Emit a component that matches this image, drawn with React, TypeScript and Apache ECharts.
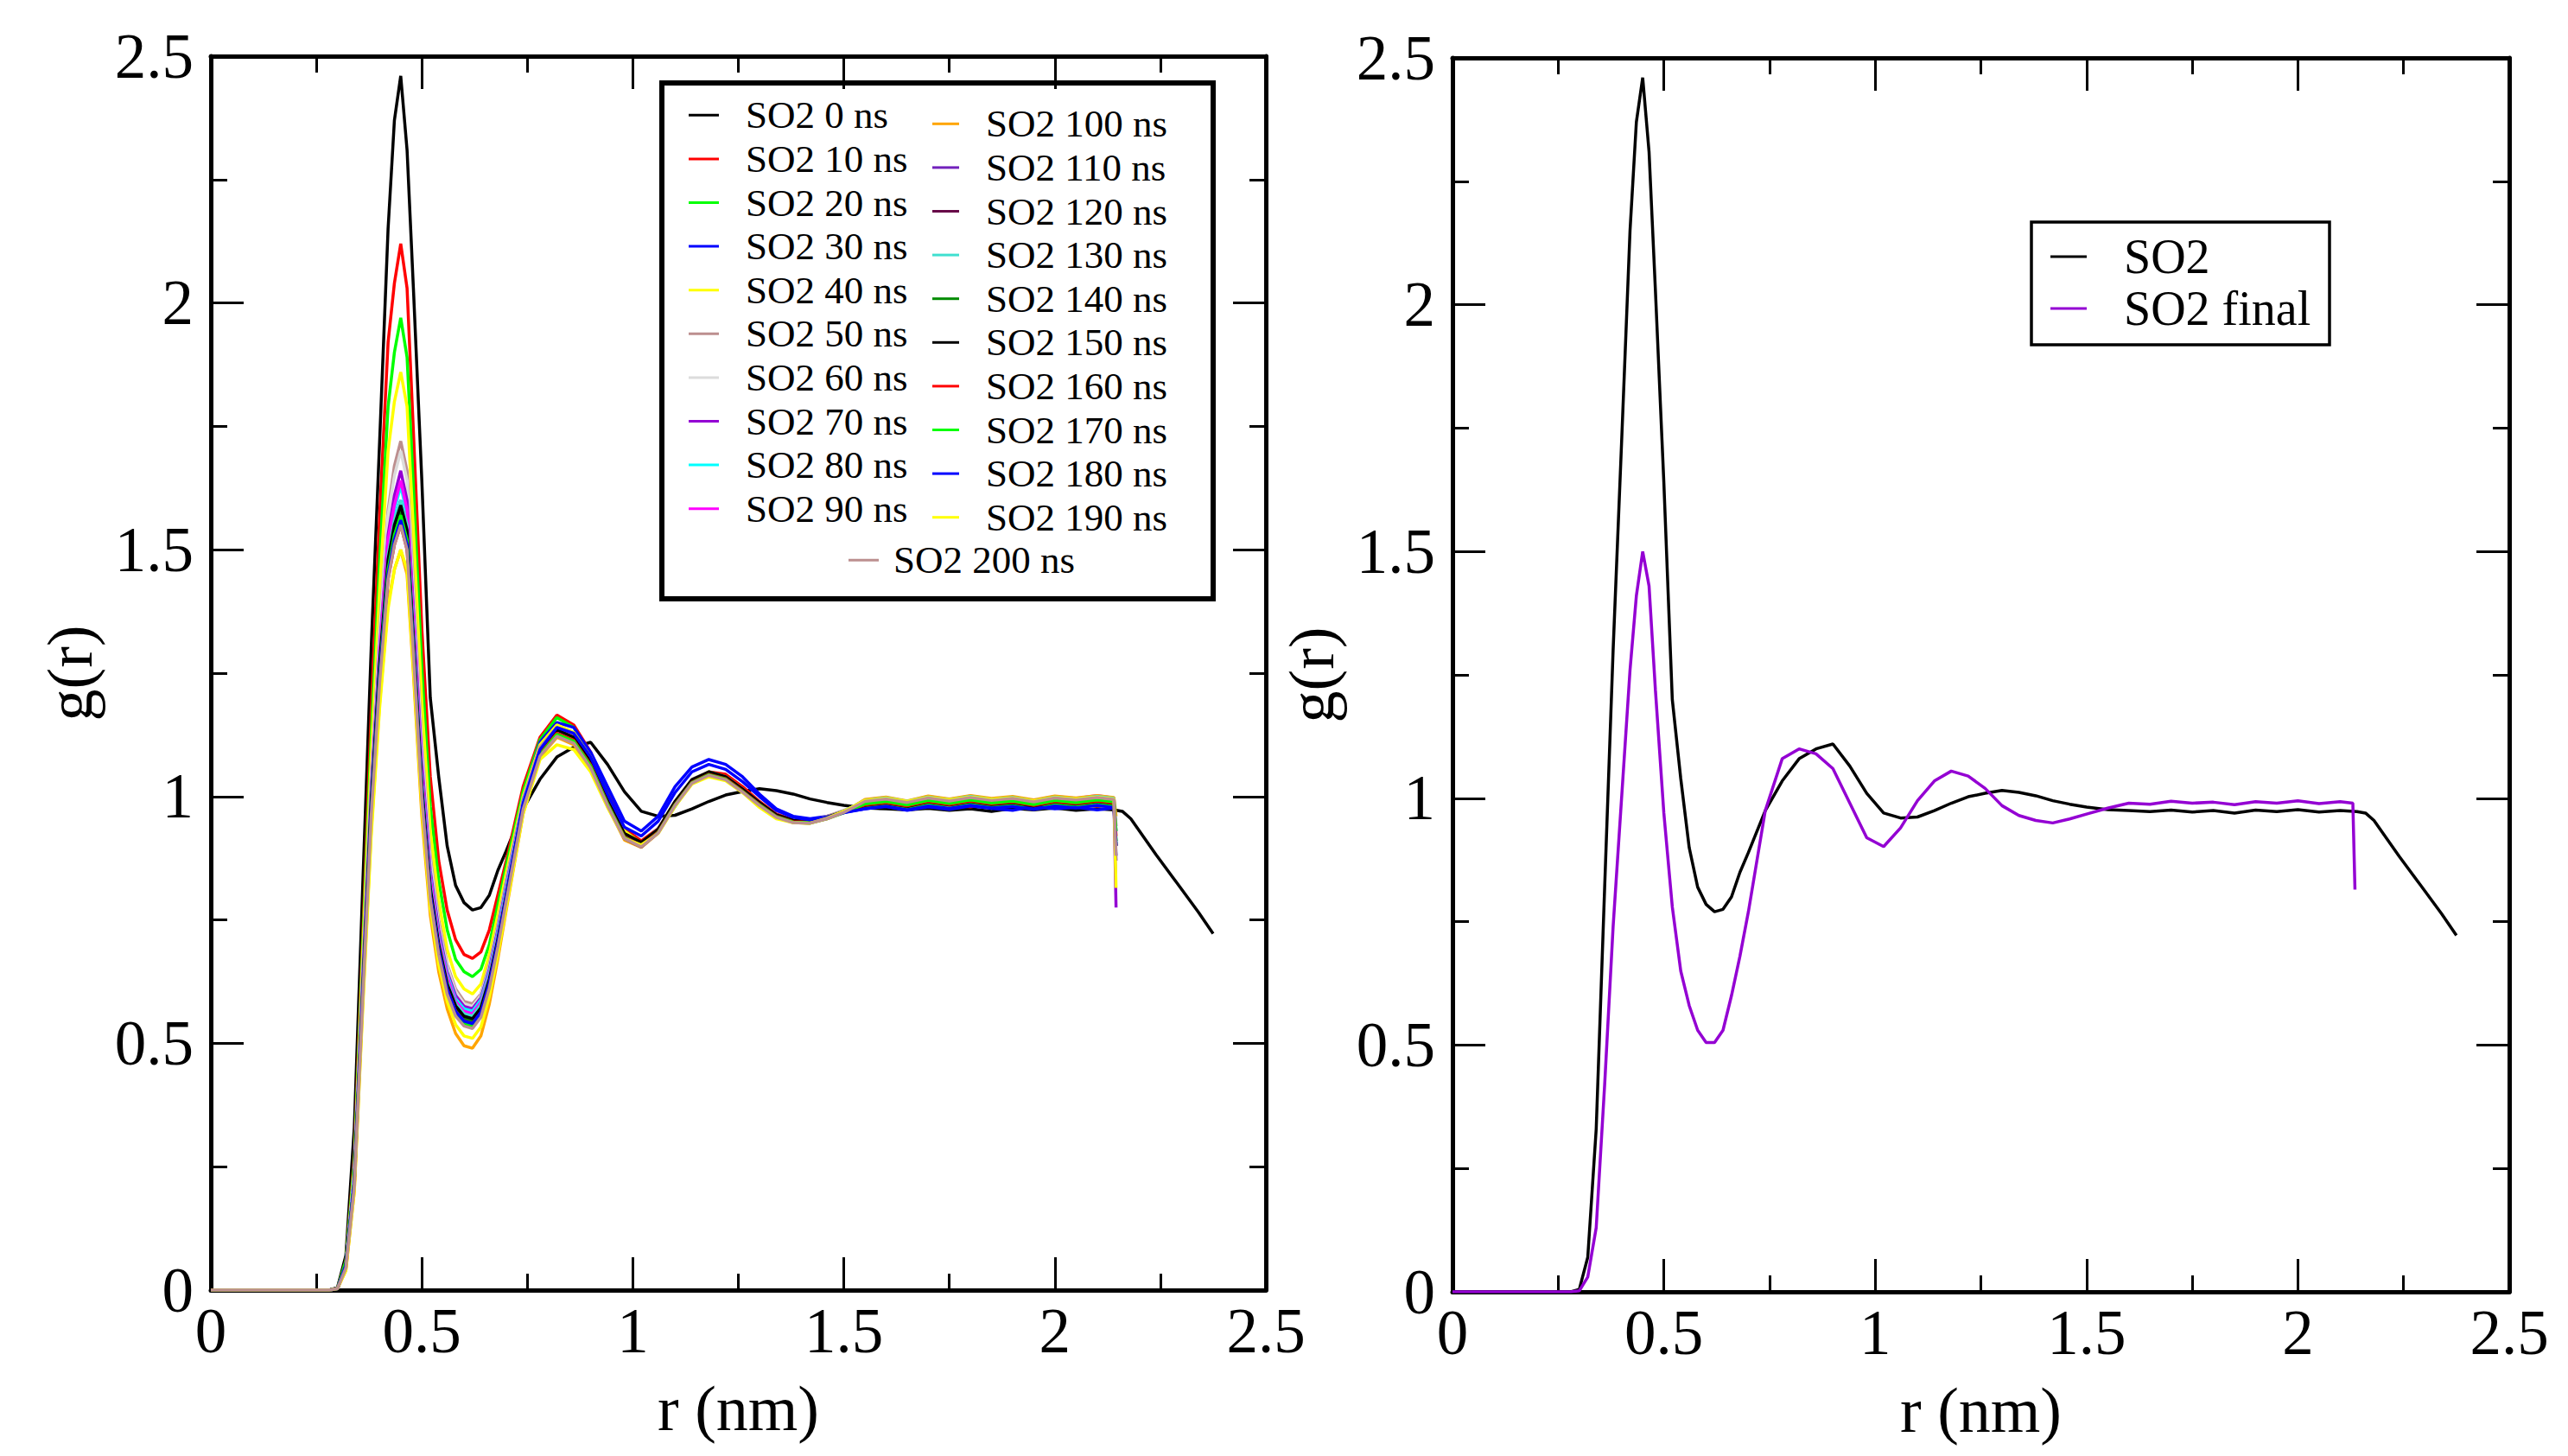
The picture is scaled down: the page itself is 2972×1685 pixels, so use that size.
import React, { useEffect, useRef } from "react";
import * as echarts from "echarts";

const FONT = "'Liberation Serif', 'Times New Roman', Times, serif";

// r grid (nm) shared by the trajectory curves of the left panel
const rLeft = [0, 0.26, 0.28, 0.3, 0.32, 0.34, 0.36, 0.38, 0.4, 0.42, 0.435, 0.45, 0.465, 0.48, 0.5, 0.52, 0.54, 0.56, 0.58, 0.6, 0.62, 0.64, 0.66, 0.68, 0.7,
  0.74, 0.78, 0.82, 0.86, 0.9, 0.94, 0.98, 1.02, 1.06, 1.1, 1.14, 1.18, 1.22, 1.26, 1.3, 1.34, 1.38, 1.42, 1.46, 1.5,
  1.55, 1.6, 1.65, 1.7, 1.75, 1.8, 1.85, 1.9, 1.95, 2.0, 2.05, 2.1, 2.14, 2.145];
// r grid of the reference (0 ns) curve, which runs on to 2.375 nm
const rRef = [0, 0.26, 0.28, 0.3, 0.32, 0.34, 0.36, 0.38, 0.4, 0.42, 0.435, 0.45, 0.465, 0.48, 0.5, 0.52, 0.54, 0.56, 0.58, 0.6, 0.62, 0.64, 0.66, 0.68, 0.7,
  0.74, 0.78, 0.82, 0.86, 0.9, 0.94, 0.98, 1.02, 1.06, 1.1, 1.14, 1.18, 1.22, 1.26, 1.3, 1.34, 1.38, 1.42, 1.46, 1.5,
  1.55, 1.6, 1.65, 1.7, 1.75, 1.8, 1.85, 1.9, 1.95, 2.0, 2.05, 2.1, 2.14, 2.16, 2.18, 2.24, 2.29, 2.34, 2.375];
// r grid of the final curve (right panel)
const rFinal = [0, 0.26, 0.28, 0.3, 0.32, 0.34, 0.36, 0.38, 0.4, 0.42, 0.435, 0.45, 0.465, 0.48, 0.5, 0.52, 0.54, 0.56, 0.58, 0.6, 0.62, 0.64, 0.66, 0.68, 0.7,
  0.74, 0.78, 0.82, 0.86, 0.9, 0.94, 0.98, 1.02, 1.06, 1.1, 1.14, 1.18, 1.22, 1.26, 1.3, 1.34, 1.38, 1.42, 1.46, 1.5,
  1.55, 1.6, 1.65, 1.7, 1.75, 1.8, 1.85, 1.9, 1.95, 2.0, 2.05, 2.1, 2.13, 2.135];

const g0 = [0, 0, 0, 0.005, 0.07, 0.33, 0.82, 1.3, 1.72, 2.15, 2.37, 2.46, 2.31, 2.03, 1.64, 1.2, 1.04, 0.9, 0.82, 0.785, 0.77, 0.775, 0.8, 0.85, 0.89,
  0.975, 1.035, 1.08, 1.1, 1.11, 1.065, 1.01, 0.97, 0.96, 0.962, 0.975, 0.99, 1.003, 1.01, 1.016, 1.012, 1.005, 0.995, 0.988, 0.982,
  0.977, 0.975, 0.973, 0.976, 0.972, 0.975, 0.97, 0.976, 0.973, 0.977, 0.972, 0.975, 0.973, 0.97, 0.955, 0.882, 0.824, 0.766, 0.722];
const g10 = [0, 0, 0, 0.003, 0.06, 0.27, 0.72, 1.17, 1.57, 1.92, 2.04, 2.12, 2.03, 1.74, 1.34, 1.04, 0.87, 0.77, 0.71, 0.68, 0.672, 0.685, 0.73, 0.8, 0.87,
  1.02, 1.12, 1.165, 1.145, 1.09, 1.01, 0.935, 0.91, 0.935, 0.985, 1.03, 1.05, 1.045, 1.02, 0.99, 0.965, 0.952, 0.95, 0.958, 0.968,
  0.978, 0.985, 0.981, 0.988, 0.983, 0.979, 0.986, 0.982, 0.988, 0.98, 0.985, 0.981, 0.984, 0.93];
const g20 = [0, 0, 0, 0.003, 0.06, 0.26, 0.7, 1.12, 1.48, 1.79, 1.9, 1.97, 1.89, 1.63, 1.26, 0.98, 0.83, 0.73, 0.67, 0.645, 0.635, 0.65, 0.7, 0.78, 0.86,
  1.01, 1.115, 1.16, 1.14, 1.085, 1.005, 0.93, 0.905, 0.93, 0.98, 1.03, 1.05, 1.04, 1.015, 0.985, 0.96, 0.948, 0.946, 0.955, 0.967,
  0.98, 0.984, 0.978, 0.986, 0.982, 0.987, 0.98, 0.985, 0.979, 0.986, 0.983, 0.988, 0.982, 0.91];
const g30 = [0, 0, 0, 0.003, 0.05, 0.23, 0.63, 1.0, 1.27, 1.49, 1.56, 1.6, 1.55, 1.32, 1.03, 0.83, 0.71, 0.63, 0.58, 0.562, 0.56, 0.585, 0.64, 0.72, 0.81,
  0.995, 1.11, 1.15, 1.14, 1.09, 1.02, 0.95, 0.93, 0.96, 1.02, 1.06, 1.075, 1.065, 1.04, 1.005, 0.975, 0.96, 0.955, 0.96, 0.968,
  0.975, 0.98, 0.972, 0.979, 0.974, 0.981, 0.976, 0.972, 0.98, 0.975, 0.978, 0.973, 0.977, 0.88];
const g40 = [0, 0, 0, 0.003, 0.05, 0.25, 0.68, 1.08, 1.42, 1.7, 1.8, 1.86, 1.79, 1.54, 1.19, 0.93, 0.79, 0.69, 0.635, 0.61, 0.6, 0.62, 0.68, 0.76, 0.845,
  1.0, 1.105, 1.145, 1.13, 1.08, 1.0, 0.93, 0.905, 0.93, 0.985, 1.03, 1.045, 1.035, 1.01, 0.985, 0.962, 0.95, 0.948, 0.958, 0.97,
  0.985, 0.99, 0.984, 0.992, 0.987, 0.994, 0.988, 0.991, 0.986, 0.993, 0.989, 0.992, 0.99, 0.92];
const g50 = [0, 0, 0, 0.003, 0.05, 0.24, 0.65, 1.04, 1.34, 1.58, 1.67, 1.72, 1.66, 1.43, 1.11, 0.88, 0.75, 0.66, 0.61, 0.585, 0.58, 0.6, 0.66, 0.74, 0.83,
  0.995, 1.1, 1.14, 1.125, 1.075, 0.995, 0.925, 0.905, 0.935, 0.99, 1.035, 1.05, 1.04, 1.015, 0.988, 0.963, 0.951, 0.95, 0.96, 0.972,
  0.988, 0.993, 0.986, 0.995, 0.989, 0.996, 0.99, 0.994, 0.987, 0.995, 0.991, 0.997, 0.992, 0.9];
const g60 = [0, 0, 0, 0.003, 0.05, 0.24, 0.64, 1.03, 1.33, 1.57, 1.65, 1.7, 1.64, 1.41, 1.1, 0.87, 0.74, 0.655, 0.605, 0.58, 0.575, 0.597, 0.655, 0.735, 0.825,
  0.99, 1.095, 1.135, 1.12, 1.07, 0.99, 0.922, 0.903, 0.932, 0.988, 1.032, 1.048, 1.038, 1.013, 0.986, 0.962, 0.95, 0.949, 0.958, 0.97,
  0.991, 0.996, 0.989, 0.998, 0.992, 0.999, 0.993, 0.997, 0.99, 0.998, 0.994, 0.999, 0.995, 0.89];
const g70 = [0, 0, 0, 0.003, 0.05, 0.23, 0.63, 1.01, 1.3, 1.53, 1.61, 1.66, 1.6, 1.38, 1.07, 0.85, 0.73, 0.645, 0.597, 0.575, 0.57, 0.592, 0.65, 0.73, 0.82,
  0.99, 1.095, 1.135, 1.12, 1.068, 0.99, 0.922, 0.902, 0.93, 0.986, 1.03, 1.046, 1.037, 1.012, 0.985, 0.96, 0.949, 0.948, 0.957, 0.969,
  0.99, 0.995, 0.988, 0.997, 0.991, 0.998, 0.992, 0.996, 0.989, 0.997, 0.993, 0.998, 0.994, 0.775];
const g80 = [0, 0, 0, 0.003, 0.05, 0.23, 0.62, 1.0, 1.29, 1.51, 1.58, 1.63, 1.57, 1.36, 1.05, 0.84, 0.72, 0.64, 0.59, 0.57, 0.565, 0.588, 0.645, 0.725, 0.815,
  0.988, 1.093, 1.133, 1.118, 1.066, 0.988, 0.92, 0.901, 0.93, 0.985, 1.03, 1.045, 1.036, 1.011, 0.984, 0.96, 0.949, 0.947, 0.957, 0.969,
  0.992, 0.997, 0.99, 0.999, 0.993, 1.0, 0.994, 0.998, 0.991, 0.999, 0.995, 1.0, 0.996, 0.905];
const g90 = [0, 0, 0, 0.003, 0.05, 0.23, 0.62, 1.0, 1.29, 1.52, 1.59, 1.64, 1.58, 1.36, 1.05, 0.835, 0.715, 0.635, 0.585, 0.565, 0.56, 0.583, 0.64, 0.72, 0.81,
  0.985, 1.09, 1.13, 1.115, 1.064, 0.986, 0.918, 0.9, 0.928, 0.984, 1.028, 1.044, 1.035, 1.01, 0.983, 0.959, 0.948, 0.947, 0.956, 0.968,
  0.993, 0.998, 0.99, 1.0, 0.994, 1.001, 0.995, 0.999, 0.992, 1.0, 0.996, 1.002, 0.997, 0.94];
const g100 = [0, 0, 0, 0.003, 0.04, 0.2, 0.58, 0.93, 1.19, 1.39, 1.46, 1.5, 1.45, 1.25, 0.96, 0.76, 0.645, 0.57, 0.52, 0.495, 0.49, 0.515, 0.58, 0.67, 0.77,
  0.965, 1.08, 1.12, 1.105, 1.055, 0.98, 0.912, 0.897, 0.926, 0.982, 1.027, 1.043, 1.034, 1.009, 0.982, 0.958, 0.947, 0.946, 0.955, 0.968,
  0.994, 0.999, 0.991, 1.001, 0.995, 1.002, 0.996, 1.0, 0.993, 1.001, 0.997, 1.002, 0.998, 0.96];
const g110 = [0, 0, 0, 0.003, 0.05, 0.22, 0.61, 0.98, 1.26, 1.47, 1.54, 1.58, 1.53, 1.32, 1.02, 0.81, 0.7, 0.62, 0.575, 0.555, 0.55, 0.573, 0.63, 0.71, 0.8,
  0.982, 1.088, 1.128, 1.113, 1.062, 0.984, 0.916, 0.899, 0.928, 0.984, 1.029, 1.045, 1.036, 1.011, 0.984, 0.96, 0.949, 0.948, 0.957, 0.969,
  0.988, 0.993, 0.986, 0.995, 0.989, 0.996, 0.99, 0.994, 0.987, 0.995, 0.991, 0.996, 0.992, 0.87];
const g120 = [0, 0, 0, 0.003, 0.05, 0.22, 0.6, 0.97, 1.25, 1.46, 1.53, 1.57, 1.52, 1.31, 1.01, 0.805, 0.695, 0.617, 0.572, 0.552, 0.548, 0.57, 0.627, 0.708, 0.798,
  0.98, 1.086, 1.126, 1.111, 1.06, 0.983, 0.915, 0.898, 0.927, 0.983, 1.028, 1.044, 1.035, 1.01, 0.983, 0.959, 0.948, 0.947, 0.956, 0.968,
  0.986, 0.991, 0.984, 0.993, 0.987, 0.994, 0.988, 0.992, 0.985, 0.993, 0.989, 0.994, 0.99, 0.9];
const g130 = [0, 0, 0, 0.003, 0.05, 0.23, 0.61, 0.99, 1.27, 1.49, 1.56, 1.6, 1.55, 1.33, 1.03, 0.82, 0.705, 0.625, 0.58, 0.56, 0.555, 0.578, 0.635, 0.715, 0.805,
  0.984, 1.09, 1.13, 1.115, 1.064, 0.986, 0.918, 0.9, 0.929, 0.985, 1.03, 1.046, 1.037, 1.012, 0.985, 0.961, 0.95, 0.949, 0.958, 0.97,
  0.992, 0.997, 0.99, 0.999, 0.993, 1.0, 0.994, 0.998, 0.991, 0.999, 0.995, 1.0, 0.996, 0.93];
const g140 = [0, 0, 0, 0.003, 0.05, 0.22, 0.6, 0.98, 1.26, 1.47, 1.54, 1.58, 1.53, 1.315, 1.015, 0.808, 0.697, 0.618, 0.572, 0.551, 0.545, 0.568, 0.625, 0.706, 0.797,
  0.98, 1.087, 1.127, 1.112, 1.061, 0.984, 0.916, 0.899, 0.928, 0.984, 1.029, 1.045, 1.036, 1.011, 0.984, 0.96, 0.949, 0.948, 0.957, 0.969,
  0.984, 0.989, 0.982, 0.991, 0.985, 0.992, 0.986, 0.99, 0.983, 0.991, 0.987, 0.992, 0.988, 0.91];
const g150 = [0, 0, 0, 0.003, 0.05, 0.22, 0.61, 0.99, 1.27, 1.48, 1.55, 1.59, 1.54, 1.32, 1.02, 0.815, 0.7, 0.62, 0.576, 0.555, 0.55, 0.572, 0.63, 0.71, 0.8,
  0.983, 1.092, 1.135, 1.12, 1.07, 0.992, 0.925, 0.907, 0.934, 0.99, 1.034, 1.05, 1.04, 1.015, 0.988, 0.963, 0.952, 0.95, 0.958, 0.969,
  0.982, 0.987, 0.98, 0.989, 0.983, 0.99, 0.984, 0.988, 0.981, 0.989, 0.985, 0.99, 0.986, 0.9];
const g160 = [0, 0, 0, 0.003, 0.045, 0.21, 0.6, 0.96, 1.24, 1.44, 1.51, 1.55, 1.5, 1.29, 1.0, 0.8, 0.69, 0.61, 0.565, 0.545, 0.54, 0.562, 0.62, 0.702, 0.793,
  0.978, 1.086, 1.128, 1.114, 1.064, 0.986, 0.918, 0.9, 0.928, 0.984, 1.029, 1.045, 1.036, 1.011, 0.984, 0.96, 0.949, 0.948, 0.957, 0.969,
  0.983, 0.988, 0.981, 0.99, 0.984, 0.991, 0.985, 0.989, 0.982, 0.99, 0.986, 0.991, 0.987, 0.92];
const g170 = [0, 0, 0, 0.003, 0.05, 0.22, 0.6, 0.97, 1.25, 1.46, 1.53, 1.57, 1.52, 1.3, 1.0, 0.798, 0.687, 0.607, 0.561, 0.54, 0.535, 0.558, 0.616, 0.698, 0.79,
  0.976, 1.084, 1.126, 1.112, 1.062, 0.985, 0.917, 0.899, 0.927, 0.983, 1.028, 1.044, 1.035, 1.01, 0.983, 0.959, 0.948, 0.947, 0.956, 0.968,
  0.985, 0.99, 0.983, 0.992, 0.986, 0.993, 0.987, 0.991, 0.984, 0.992, 0.988, 0.993, 0.989, 0.93];
const g180 = [0, 0, 0, 0.003, 0.05, 0.22, 0.6, 0.97, 1.245, 1.45, 1.52, 1.56, 1.51, 1.3, 1.005, 0.802, 0.69, 0.61, 0.565, 0.545, 0.54, 0.563, 0.622, 0.705, 0.797,
  0.985, 1.095, 1.14, 1.128, 1.08, 1.005, 0.938, 0.92, 0.95, 1.008, 1.05, 1.065, 1.055, 1.03, 1.0, 0.972, 0.958, 0.953, 0.958, 0.967,
  0.975, 0.98, 0.973, 0.981, 0.976, 0.982, 0.977, 0.98, 0.974, 0.981, 0.977, 0.982, 0.978, 0.9];
const g190 = [0, 0, 0, 0.003, 0.04, 0.2, 0.57, 0.92, 1.18, 1.38, 1.46, 1.5, 1.46, 1.26, 0.975, 0.775, 0.66, 0.585, 0.538, 0.515, 0.51, 0.533, 0.595, 0.68, 0.775,
  0.965, 1.075, 1.105, 1.095, 1.05, 0.978, 0.915, 0.902, 0.925, 0.98, 1.025, 1.04, 1.032, 1.008, 0.978, 0.955, 0.947, 0.946, 0.956, 0.97,
  0.992, 0.996, 0.99, 0.998, 0.993, 0.999, 0.994, 0.997, 0.991, 0.998, 0.995, 0.999, 0.995, 0.815];
const g200 = [0, 0, 0, 0.003, 0.045, 0.21, 0.59, 0.96, 1.23, 1.44, 1.51, 1.55, 1.5, 1.29, 0.995, 0.793, 0.68, 0.6, 0.555, 0.535, 0.53, 0.553, 0.612, 0.695, 0.788,
  0.974, 1.082, 1.122, 1.108, 1.058, 0.982, 0.915, 0.898, 0.926, 0.982, 1.027, 1.043, 1.034, 1.009, 0.982, 0.958, 0.947, 0.946, 0.955, 0.968,
  0.99, 0.995, 0.988, 0.997, 0.991, 0.998, 0.992, 0.996, 0.989, 0.997, 0.993, 0.998, 0.994, 0.88];
const gFinal = [0, 0, 0, 0.002, 0.03, 0.13, 0.42, 0.74, 1.0, 1.26, 1.41, 1.5, 1.43, 1.22, 0.97, 0.78, 0.65, 0.58, 0.53, 0.505, 0.505, 0.53, 0.6, 0.68, 0.77,
  0.975, 1.08, 1.1, 1.09, 1.06, 0.99, 0.92, 0.902, 0.94, 0.995, 1.035, 1.055, 1.045, 1.02, 0.985, 0.965, 0.955, 0.95, 0.958, 0.968,
  0.98, 0.99, 0.988, 0.994, 0.99, 0.992, 0.987, 0.993, 0.99, 0.995, 0.989, 0.993, 0.99, 0.815];

const leftNames = ["SO2 0 ns", "SO2 10 ns", "SO2 20 ns", "SO2 30 ns", "SO2 40 ns", "SO2 50 ns", "SO2 60 ns", "SO2 70 ns", "SO2 80 ns", "SO2 90 ns",
  "SO2 100 ns", "SO2 110 ns", "SO2 120 ns", "SO2 130 ns", "SO2 140 ns", "SO2 150 ns", "SO2 160 ns", "SO2 170 ns", "SO2 180 ns", "SO2 190 ns", "SO2 200 ns"];
const leftValues = [g0, g10, g20, g30, g40, g50, g60, g70, g80, g90, g100, g110, g120, g130, g140, g150, g160, g170, g180, g190, g200];
const leftColors = ["#000000", "#ff0000", "#00ff00", "#0000ff", "#ffff00", "#bc8f8f", "#dcdcdc", "#9400d3", "#00ffff", "#ff00ff",
  "#ffa500", "#7221bc", "#670748", "#40e0d0", "#008b00", "#000000", "#ff0000", "#00ff00", "#0000ff", "#ffff00", "#bc8f8f"];
const rightNames = ["SO2", "SO2 final"];
const rightColors = ["#000000", "#9400d3"];

const xTicks = { min: 0, max: 2.5, interval: 0.5 };
const yTicks = { min: 0, max: 2.5, interval: 0.5 };

function pairs(rs: number[], gs: number[]) {
  return rs.map((r, i) => [r, gs[i]]);
}

function frameAxis(extra: any) {
  return {
    type: "value",
    axisLine: { show: true, onZero: false, lineStyle: { color: "#000", width: 5 } },
    axisTick: { show: true, inside: true, length: 38, lineStyle: { color: "#000", width: 3 } },
    minorTick: { show: true, splitNumber: 2, length: 19, lineStyle: { color: "#000", width: 3 } },
    splitLine: { show: false },
    minorSplitLine: { show: false },
    ...extra,
  };
}

const labelStyle = { fontFamily: FONT, fontSize: 73, color: "#000" };
const nameStyle = { fontFamily: FONT, fontSize: 74, color: "#000" };

export default function App() {
  const ref = useRef<HTMLDivElement>(null);
  useEffect(() => {
    if (!ref.current) return;
    const chart = echarts.init(ref.current, undefined, { renderer: "svg" });
    const grids = [
      { left: 244, top: 65, width: 1221, height: 1428 },
      { left: 1681, top: 67, width: 1223, height: 1428 },
    ];
    const xAxis: any[] = [];
    const yAxis: any[] = [];
    [0, 1].forEach((gi) => {
      xAxis.push(frameAxis({ gridIndex: gi, position: "bottom", ...xTicks, name: "r (nm)", nameLocation: "middle", nameGap: 100, nameTextStyle: nameStyle, axisLabel: { ...labelStyle, margin: 11 } }));
      xAxis.push(frameAxis({ gridIndex: gi, position: "top", ...xTicks, axisLabel: { show: false } }));
      yAxis.push(frameAxis({ gridIndex: gi, position: "left", ...yTicks, name: "g(r)", nameLocation: "middle", nameGap: 126, nameTextStyle: nameStyle, axisLabel: { ...labelStyle, margin: 20 } }));
      yAxis.push(frameAxis({ gridIndex: gi, position: "right", ...yTicks, axisLabel: { show: false } }));
    });
    const series: any[] = [];
    leftNames.forEach((name, i) => {
      series.push({
        type: "line", name, xAxisIndex: 0, yAxisIndex: 0, showSymbol: false, symbol: "none",
        data: pairs(i === 0 ? rRef : rLeft, leftValues[i]),
        lineStyle: { color: leftColors[i], width: 3.5 }, itemStyle: { color: leftColors[i] },
        emphasis: { disabled: true }, silent: true,
      });
    });
    series.push({
      type: "line", name: rightNames[0], xAxisIndex: 2, yAxisIndex: 2, showSymbol: false, symbol: "none",
      data: pairs(rRef, g0), lineStyle: { color: rightColors[0], width: 3.5 }, itemStyle: { color: rightColors[0] },
      emphasis: { disabled: true }, silent: true,
    });
    series.push({
      type: "line", name: rightNames[1], xAxisIndex: 2, yAxisIndex: 2, showSymbol: false, symbol: "none",
      data: pairs(rFinal, gFinal), lineStyle: { color: rightColors[1], width: 3.5 }, itemStyle: { color: rightColors[1] },
      emphasis: { disabled: true }, silent: true,
    });
    const legendText = (size: number, lh: number, padLeft: number) => ({
      fontFamily: FONT, fontSize: size, color: "#000", lineHeight: lh, padding: [0, 0, 0, padLeft],
    });
    const legend = [
      { orient: "vertical", left: 797, top: 108, itemWidth: 35, itemHeight: 3, itemGap: 0, icon: "rect", padding: 0, selectedMode: false,
        data: leftNames.slice(0, 10), textStyle: legendText(45, 50.6, 26) },
      { orient: "vertical", left: 1079, top: 118, itemWidth: 31, itemHeight: 3, itemGap: 0, icon: "rect", padding: 0, selectedMode: false,
        data: leftNames.slice(10, 20), textStyle: legendText(45, 50.6, 26) },
      { orient: "vertical", left: 982, top: 623, itemWidth: 35, itemHeight: 3, itemGap: 0, icon: "rect", padding: 0, selectedMode: false,
        data: leftNames.slice(20), textStyle: legendText(45, 50.6, 12) },
      { orient: "vertical", left: 2373, top: 267, itemWidth: 42, itemHeight: 3, itemGap: 0, icon: "rect", padding: 0, selectedMode: false,
        data: rightNames, textStyle: legendText(56, 60, 38) },
    ];
    chart.setOption({
      animation: false,
      backgroundColor: "#ffffff",
      textStyle: { fontFamily: FONT, color: "#000" },
      grid: grids,
      xAxis,
      yAxis,
      legend,
      series,
      graphic: [
        { type: "rect", shape: { x: 766, y: 96, width: 638, height: 597 }, style: { fill: "none", stroke: "#000", lineWidth: 6 }, silent: true },
        { type: "rect", shape: { x: 2351, y: 257, width: 345, height: 142 }, style: { fill: "none", stroke: "#000", lineWidth: 3.5 }, silent: true },
      ],
    });
    return () => chart.dispose();
  }, []);
  return <div ref={ref} style={{ position: "fixed", left: 0, top: 0, width: 2972, height: 1685, background: "#fff" }} />;
}
